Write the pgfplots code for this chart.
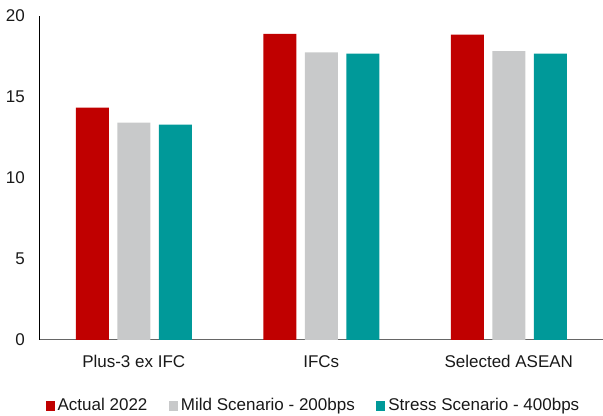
\documentclass[border=0pt]{standalone}
\usepackage{pgfplots}
\pgfplotsset{compat=1.18}
\usepackage{fontspec}
\setmainfont{Liberation Sans}
\definecolor{cred}{RGB}{192,0,0}
\definecolor{cgray}{RGB}{200,201,202}
\definecolor{cteal}{RGB}{0,153,153}
\begin{document}
\fontsize{12.75}{15}\selectfont
\begin{tikzpicture}
\begin{axis}[
  at={(0,0)}, anchor=south west,
  scale only axis,
  width=421.9pt, height=243pt,
  xmin=-0.5, xmax=2.5, ymin=0, ymax=20,
  axis x line*=bottom, axis y line*=left,
  axis line style={black, line width=0.75pt},
  x axis line style={draw=gray!80!black},
  ytick={0,5,10,15,20},
  xtick={0,1,2},
  xticklabels={Plus-3 ex IFC, IFCs, Selected ASEAN},
  major tick length=0pt,
  tick label style={font=\fontsize{12.75}{15}\selectfont, text=black!90},
  /pgf/number format/assume math mode=true,
  yticklabel style={xshift=-7pt},
  xticklabel style={yshift=-7pt},
  ybar, bar width=0.176, bar shift=0pt,
  legend columns=3,
  legend style={draw=none, at={(0.487,-0.2037)}, anchor=center,
    font=\fontsize{12.75}{15}\selectfont, text=black!90,
    /tikz/every even column/.append style={column sep=14pt},
    nodes={inner sep=2.2pt}},
  legend image code/.code={\fill[#1] (0pt,-3.4pt) rectangle (6.75pt,3.4pt);},
]
\addplot[fill=cred, draw=none] coordinates {(-0.2213,14.35) (0.7787,18.9) (1.7787,18.85)};
\addplot[fill=cgray, draw=none] coordinates {(0,13.42) (1,17.75) (2,17.83)};
\addplot[fill=cteal, draw=none] coordinates {(0.2213,13.3) (1.2213,17.68) (2.2213,17.68)};
\legend{Actual 2022, Mild Scenario - 200bps, Stress Scenario - 400bps}
\end{axis}
\pgfresetboundingbox
\path[use as bounding box] (-30pt,-57pt) rectangle (422.25pt,255pt);
\end{tikzpicture}
\end{document}
